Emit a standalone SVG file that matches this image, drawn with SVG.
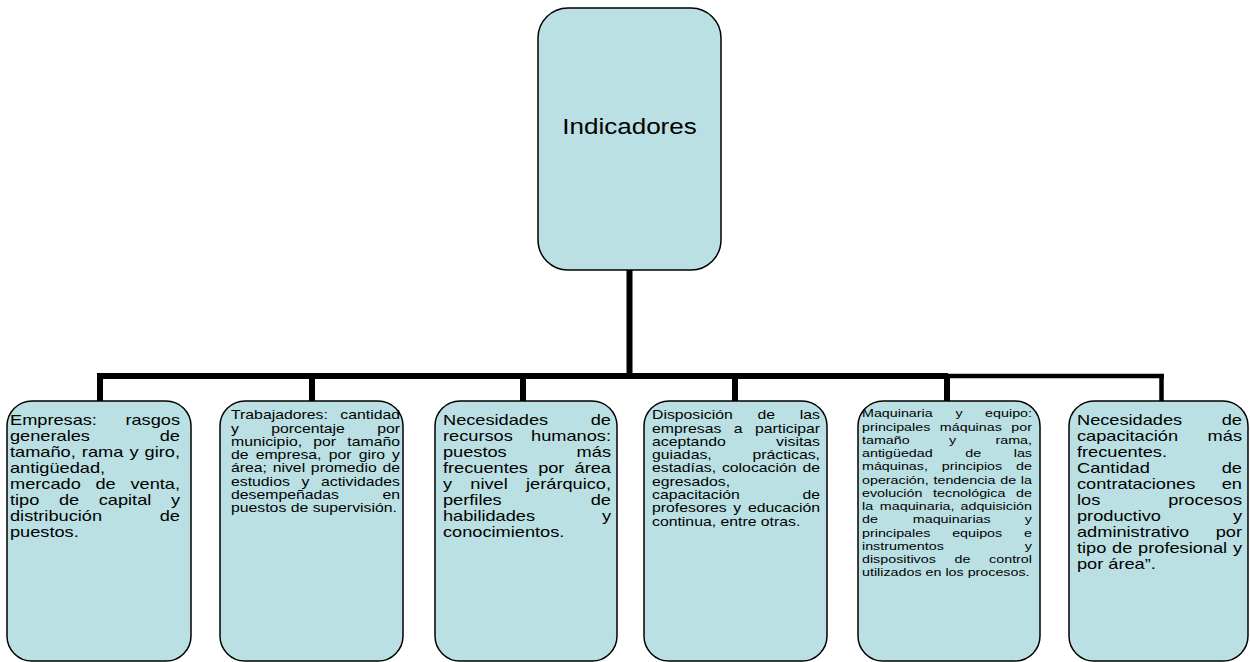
<svg xmlns="http://www.w3.org/2000/svg" width="1250" height="662" viewBox="0 0 1250 662">
<style>
.box{fill:#BBE0E3;stroke:#000;stroke-width:1.5}
.t{font-family:"Liberation Sans",Arial,sans-serif;fill:#000}
.L{font-size:14.56px}
.M{font-size:12.64px}
.S{font-size:11.44px}
.e{text-anchor:end}
.c{fill:none;stroke:#000;stroke-linecap:butt}
</style>
<rect width="1250" height="662" fill="#fff"/>
<g id="connectors">
<path class="c" stroke-width="6" d="M629.5 270V376M97 376H948M100 376V402M312 376V402M523 376V402M735 376V402M947 376V402"/>
<path class="c" stroke-width="4.5" d="M946 376H1164M1161.5 376V402"/>
</g>
<g id="root">
<rect class="box" x="538" y="8" width="183" height="262" rx="30"/>
<g class="t" transform="translate(629.5,134) scale(1.2,1)"><text x="0" y="0" font-size="21.7" text-anchor="middle">Indicadores</text></g>
</g>
<g id="n1">
<rect class="box" x="7" y="401" width="184" height="260" rx="25"/>
<g class="t L" transform="translate(10,0.5) scale(1.25,1)">
<text x="0" y="425">Empresas:</text><text class="e" x="136" y="425">rasgos</text>
<text x="0" y="441">generales</text><text class="e" x="136" y="441">de</text>
<text x="0" y="457">tamaño,</text><text x="57.48" y="457">rama</text><text x="95.52" y="457">y</text><text class="e" x="136" y="457">giro,</text>
<text x="0" y="473">antigüedad,</text>
<text x="0" y="489">mercado</text><text x="68.39" y="489">de</text><text class="e" x="136" y="489">venta,</text>
<text x="0" y="505">tipo</text><text x="39.14" y="505">de</text><text x="70.99" y="505">capital</text><text class="e" x="136" y="505">y</text>
<text x="0" y="521">distribución</text><text class="e" x="136" y="521">de</text>
<text x="0" y="537">puestos.</text>
</g>
</g>
<g id="n2">
<rect class="box" x="220" y="401" width="183" height="260" rx="25"/>
<g class="t M" transform="translate(231,0.3) scale(1.25,1)">
<text x="0" y="419">Trabajadores:</text><text class="e" x="135.2" y="419">cantidad</text>
<text x="0" y="432.3">y</text><text x="32.14" y="432.3">porcentaje</text><text class="e" x="135.2" y="432.3">por</text>
<text x="0" y="445.6">municipio,</text><text x="65.84" y="445.6">por</text><text class="e" x="135.2" y="445.6">tamaño</text>
<text x="0" y="458.9">de</text><text x="19.76" y="458.9">empresa,</text><text x="78.14" y="458.9">por</text><text x="102.11" y="458.9">giro</text><text class="e" x="135.2" y="458.9">y</text>
<text x="0" y="472.2">área;</text><text x="33.36" y="472.2">nivel</text><text x="63.91" y="472.2">promedio</text><text class="e" x="135.2" y="472.2">de</text>
<text x="0" y="485.5">estudios</text><text x="56.37" y="485.5">y</text><text class="e" x="135.2" y="485.5">actividades</text>
<text x="0" y="498.8">desempeñadas</text><text class="e" x="135.2" y="498.8">en</text>
<text x="0" y="512.1">puestos de supervisión.</text>
</g>
</g>
<g id="n3">
<rect class="box" x="435" y="401" width="182" height="260" rx="25"/>
<g class="t L" transform="translate(443,0.5) scale(1.25,1)">
<text x="0" y="425">Necesidades</text><text class="e" x="134.4" y="425">de</text>
<text x="0" y="441">recursos</text><text class="e" x="134.4" y="441">humanos:</text>
<text x="0" y="457">puestos</text><text class="e" x="134.4" y="457">más</text>
<text x="0" y="473">frecuentes</text><text x="76.11" y="473">por</text><text class="e" x="134.4" y="473">área</text>
<text x="0" y="489">y</text><text x="21.89" y="489">nivel</text><text class="e" x="134.4" y="489">jerárquico,</text>
<text x="0" y="505">perfiles</text><text class="e" x="134.4" y="505">de</text>
<text x="0" y="521">habilidades</text><text class="e" x="134.4" y="521">y</text>
<text x="0" y="537">conocimientos.</text>
</g>
</g>
<g id="n4">
<rect class="box" x="644" y="401" width="183" height="260" rx="25"/>
<g class="t M" transform="translate(652,0.3) scale(1.25,1)">
<text x="0" y="419">Disposición</text><text x="84.4" y="419">de</text><text class="e" x="134.4" y="419">las</text>
<text x="0" y="432.3">empresas</text><text x="65.45" y="432.3">a</text><text class="e" x="134.4" y="432.3">participar</text>
<text x="0" y="445.6">aceptando</text><text class="e" x="134.4" y="445.6">visitas</text>
<text x="0" y="458.9">guiadas,</text><text class="e" x="134.4" y="458.9">prácticas,</text>
<text x="0" y="472.2">estadías,</text><text x="55.96" y="472.2">colocación</text><text class="e" x="134.4" y="472.2">de</text>
<text x="0" y="485.5">egresados,</text>
<text x="0" y="498.8">capacitación</text><text class="e" x="134.4" y="498.8">de</text>
<text x="0" y="512.1">profesores</text><text x="65.09" y="512.1">y</text><text class="e" x="134.4" y="512.1">educación</text>
<text x="0" y="525.4">continua, entre otras.</text>
</g>
</g>
<g id="n5">
<rect class="box" x="858" y="401" width="182" height="260" rx="25"/>
<g class="t S" transform="translate(862,0.3) scale(1.25,1)">
<text x="0" y="417">Maquinaria</text><text x="74.9" y="417">y</text><text class="e" x="136" y="417">equipo:</text>
<text x="0" y="430.25">principales</text><text x="62.28" y="430.25">máquinas</text><text class="e" x="136" y="430.25">por</text>
<text x="0" y="443.5">tamaño</text><text x="69.6" y="443.5">y</text><text class="e" x="136" y="443.5">rama,</text>
<text x="0" y="456.75">antigüedad</text><text x="82.64" y="456.75">de</text><text class="e" x="136" y="456.75">las</text>
<text x="0" y="470">máquinas,</text><text x="63.87" y="470">principios</text><text class="e" x="136" y="470">de</text>
<text x="0" y="483.25">operación,</text><text x="57.2" y="483.25">tendencia</text><text x="110.59" y="483.25">de</text><text class="e" x="136" y="483.25">la</text>
<text x="0" y="496.5">evolución</text><text x="56.87" y="496.5">tecnológica</text><text class="e" x="136" y="496.5">de</text>
<text x="0" y="509.75">la</text><text x="14.28" y="509.75">maquinaria,</text><text class="e" x="136" y="509.75">adquisición</text>
<text x="0" y="523">de</text><text x="40.66" y="523">maquinarias</text><text class="e" x="136" y="523">y</text>
<text x="0" y="536.25">principales</text><text x="72.12" y="536.25">equipos</text><text class="e" x="136" y="536.25">e</text>
<text x="0" y="549.5">instrumentos</text><text class="e" x="136" y="549.5">y</text>
<text x="0" y="562.75">dispositivos</text><text x="74.04" y="562.75">de</text><text class="e" x="136" y="562.75">control</text>
<text x="0" y="576">utilizados en los procesos.</text>
</g>
</g>
<g id="n6">
<rect class="box" x="1069" y="401" width="179" height="260" rx="25"/>
<g class="t L" transform="translate(1077,0.5) scale(1.25,1)">
<text x="0" y="425">Necesidades</text><text class="e" x="132" y="425">de</text>
<text x="0" y="441">capacitación</text><text class="e" x="132" y="441">más</text>
<text x="0" y="457">frecuentes.</text>
<text x="0" y="473">Cantidad</text><text class="e" x="132" y="473">de</text>
<text x="0" y="489">contrataciones</text><text class="e" x="132" y="489">en</text>
<text x="0" y="505">los</text><text class="e" x="132" y="505">procesos</text>
<text x="0" y="521">productivo</text><text class="e" x="132" y="521">y</text>
<text x="0" y="537">administrativo</text><text class="e" x="132" y="537">por</text>
<text x="0" y="553">tipo</text><text x="28.09" y="553">de</text><text x="48.9" y="553">profesional</text><text class="e" x="132" y="553">y</text>
<text x="0" y="569">por área”.</text>
</g>
</g>
</svg>
